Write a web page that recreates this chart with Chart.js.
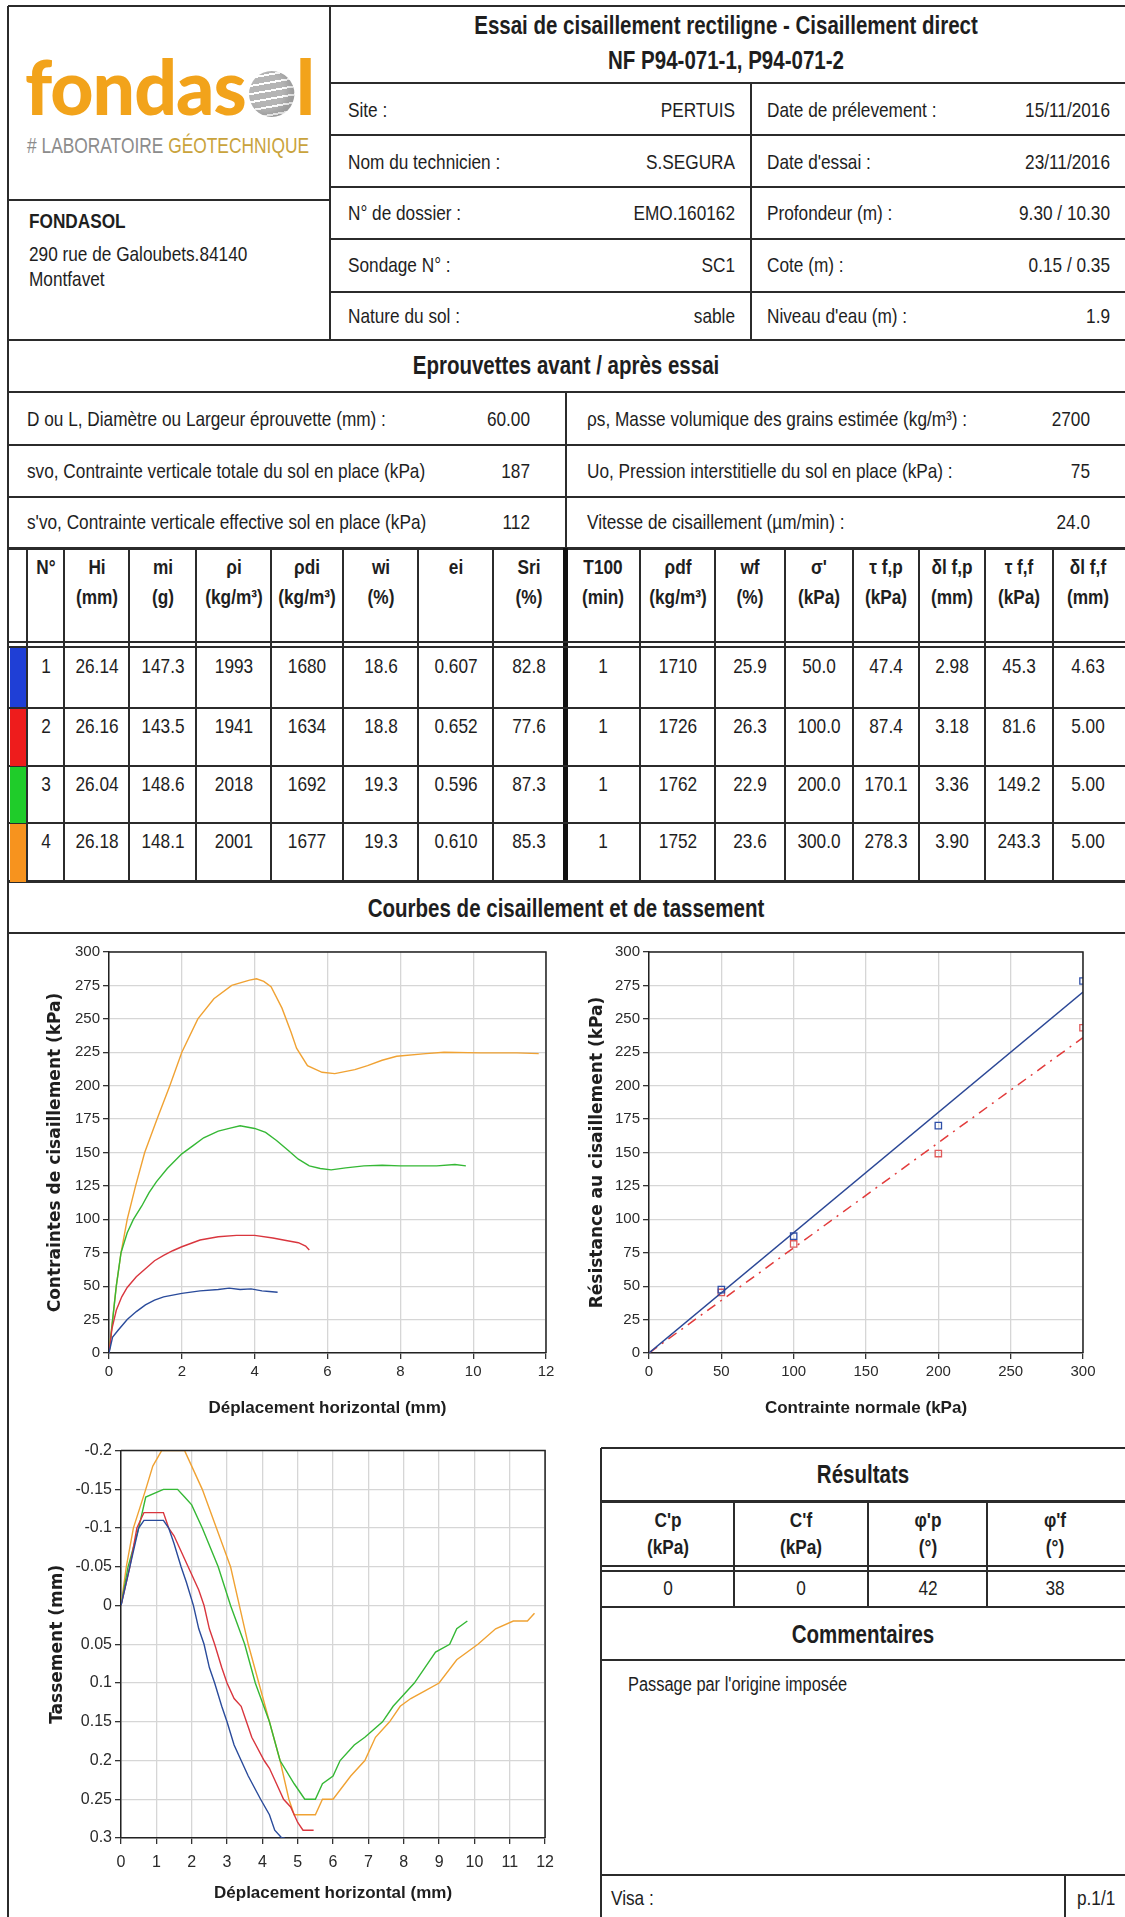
<!DOCTYPE html>
<html><head><meta charset="utf-8">
<script src="https://cdn.jsdelivr.net/npm/chart.js@4/dist/chart.umd.min.js"></script>
<style>
html,body{margin:0;padding:0;background:#fff;}
body{width:1125px;height:1917px;overflow:hidden;}
#page{position:absolute;left:0;top:0;width:1125px;height:1917px;overflow:hidden;font-family:"Liberation Sans",Arial,sans-serif;color:#1e1e1e;}
.t{position:absolute;white-space:nowrap;font-size:21px;line-height:1.15;}
.b{font-weight:bold;}
canvas{position:absolute;}
</style></head>
<body><div id="page"></div>
<script>
// ---------------- DATA ----------------
const headerLeftLabels = ["Site :", "Nom du technicien :", "N° de dossier :", "Sondage N° :", "Nature du sol :"];
const headerLeftValues = ["PERTUIS", "S.SEGURA", "EMO.160162", "SC1", "sable"];
const headerRightLabels = ["Date de prélevement :", "Date d'essai :", "Profondeur (m) :", "Cote (m) :", "Niveau d'eau (m) :"];
const headerRightValues = ["15/11/2016", "23/11/2016", "9.30 / 10.30", "0.15 / 0.35", "1.9"];

const paramLeftLabels = ["D ou L, Diamètre ou Largeur éprouvette (mm) :", "svo, Contrainte verticale totale du sol en place (kPa)", "s'vo, Contrainte verticale effective sol en place (kPa)"];
const paramLeftValues = ["60.00", "187", "112"];
const paramRightLabels = ["ρs, Masse volumique des grains estimée (kg/m³) :", "Uo, Pression interstitielle du sol en place (kPa) :", "Vitesse de cisaillement (µm/min) :"];
const paramRightValues = ["2700", "75", "24.0"];

const tableHeaders = ["N°", "Hi<br>(mm)", "mi<br>(g)", "ρi<br>(kg/m³)", "ρdi<br>(kg/m³)", "wi<br>(%)", "ei", "Sri<br>(%)",
  "T100<br>(min)", "ρdf<br>(kg/m³)", "wf<br>(%)", "σ'<br>(kPa)", "τ f,p<br>(kPa)", "δl f,p<br>(mm)", "τ f,f<br>(kPa)", "δl f,f<br>(mm)"];
const specimenNo = ["1", "2", "3", "4"];
const colHi   = ["26.14", "26.16", "26.04", "26.18"];
const colMi   = ["147.3", "143.5", "148.6", "148.1"];
const colRhoI = ["1993", "1941", "2018", "2001"];
const colRhoDi= ["1680", "1634", "1692", "1677"];
const colWi   = ["18.6", "18.8", "19.3", "19.3"];
const colEi   = ["0.607", "0.652", "0.596", "0.610"];
const colSri  = ["82.8", "77.6", "87.3", "85.3"];
const colT100 = ["1", "1", "1", "1"];
const colRhoDf= ["1710", "1726", "1762", "1752"];
const colWf   = ["25.9", "26.3", "22.9", "23.6"];
const colSigma= ["50.0", "100.0", "200.0", "300.0"];
const colTauFP= ["47.4", "87.4", "170.1", "278.3"];
const colDlFP = ["2.98", "3.18", "3.36", "3.90"];
const colTauFF= ["45.3", "81.6", "149.2", "243.3"];
const colDlFF = ["4.63", "5.00", "5.00", "5.00"];
const specimenColors = ["#1f3fd6", "#ee1c1c", "#1fcc2a", "#f7931e"];

const resultHeaders = ["C'p<br>(kPa)", "C'f<br>(kPa)", "φ'p<br>(°)", "φ'f<br>(°)"];
const resultValues = ["0", "0", "42", "38"];
const commentText = "Passage par l'origine imposée";

// Shear stress vs horizontal displacement
const dispBlue = [0, 0.1, 0.25, 0.5, 0.75, 1.0, 1.25, 1.5, 2.0, 2.5, 3.0, 3.3, 3.6, 3.9, 4.2, 4.4, 4.63];
const tauBlue  = [0, 12, 17, 25, 31, 36, 39.5, 42, 44.6, 46.5, 47.5, 48.5, 47.5, 48, 46.5, 46, 45.5];
const dispRed  = [0, 0.08, 0.2, 0.35, 0.5, 0.75, 1.0, 1.25, 1.5, 1.75, 2.0, 2.5, 3.0, 3.5, 4.0, 4.5, 4.9, 5.2, 5.4, 5.5];
const tauRed   = [0, 18, 32, 42, 49, 57, 63, 69, 73, 76.5, 79.5, 84.5, 87, 88, 88, 86, 84, 82.5, 80, 77];
const dispGreen= [0, 0.1, 0.2, 0.33, 0.5, 0.67, 0.9, 1.1, 1.3, 1.6, 2.0, 2.3, 2.6, 3.0, 3.3, 3.6, 4.0, 4.3, 4.6, 4.9, 5.2, 5.5, 5.8, 6.1, 6.5, 7.0, 7.5, 8.0, 8.5, 9.0, 9.5, 9.8];
const tauGreen = [0, 25, 50, 75, 90, 100, 110, 120, 128, 138, 149, 155, 161, 166, 168, 170, 168, 165, 159, 152, 145, 140, 138, 137, 138.5, 140, 140.5, 140, 140, 140, 141, 140];
const dispOrange=[0, 0.1, 0.2, 0.33, 0.5, 0.73, 0.98, 1.32, 1.67, 2.0, 2.44, 2.88, 3.37, 3.86, 4.05, 4.25, 4.45, 4.75, 5.0, 5.15, 5.45, 5.85, 6.2, 6.75, 7.1, 7.5, 7.9, 8.7, 9.2, 10.2, 11.2, 11.8];
const tauOrange= [0, 25, 50, 75, 100, 125, 150, 175, 200, 225, 250, 265, 275, 279, 280, 278, 274, 258, 240, 228, 215, 210, 209, 212, 215, 219, 222, 224, 225, 224.5, 224.5, 224];

// Shear strength vs normal stress
const sigmaN = [50, 100, 200, 300];
const tauPeak = [47.4, 87.4, 170.1, 278.3];
const tauFinal = [45.3, 81.6, 149.2, 243.3];
const fitSigma = [0, 300];
const fitPeak = [0, 270];
const fitFinal = [0, 236];

// Settlement vs horizontal displacement
const sdBlue = [0, 0.25, 0.5, 0.65, 1.2, 1.35, 1.5, 1.7, 1.85, 2.05, 2.2, 2.35, 2.5, 2.65, 2.85, 3.0, 3.2, 3.4, 3.6, 3.95, 4.2, 4.35, 4.55, 4.63];
const stBlue = [0, -0.05, -0.1, -0.11, -0.11, -0.1, -0.08, -0.05, -0.03, 0, 0.03, 0.05, 0.08, 0.1, 0.13, 0.15, 0.18, 0.2, 0.22, 0.25, 0.27, 0.29, 0.3, 0.3];
const sdRed  = [0, 0.25, 0.45, 0.65, 1.2, 1.35, 1.5, 1.7, 1.9, 2.2, 2.35, 2.5, 2.65, 2.85, 3.0, 3.2, 3.4, 3.55, 3.7, 4.05, 4.2, 4.4, 4.6, 4.8, 5.0, 5.15, 5.45];
const stRed  = [0, -0.05, -0.1, -0.12, -0.12, -0.1, -0.09, -0.07, -0.05, -0.02, 0, 0.03, 0.05, 0.08, 0.1, 0.12, 0.13, 0.15, 0.17, 0.2, 0.21, 0.23, 0.25, 0.26, 0.28, 0.29, 0.29];
const sdGreen= [0, 0.2, 0.5, 0.7, 1.2, 1.6, 1.8, 2.0, 2.3, 2.75, 3.1, 3.5, 3.8, 4.2, 4.5, 4.9, 5.2, 5.5, 5.7, 6.0, 6.2, 6.6, 6.9, 7.4, 7.7, 7.9, 8.3, 8.6, 8.9, 9.3, 9.5, 9.8];
const stGreen= [0, -0.05, -0.1, -0.14, -0.15, -0.15, -0.14, -0.13, -0.1, -0.05, 0, 0.05, 0.1, 0.15, 0.2, 0.23, 0.25, 0.25, 0.23, 0.22, 0.2, 0.18, 0.17, 0.15, 0.13, 0.12, 0.1, 0.08, 0.06, 0.05, 0.03, 0.02];
const sdOrange=[0, 0.15, 0.35, 0.7, 0.9, 1.15, 1.8, 2.0, 2.3, 2.7, 3.1, 3.35, 3.6, 3.9, 4.2, 4.5, 4.75, 4.9, 5.5, 5.7, 6.0, 6.5, 6.9, 7.2, 7.6, 7.9, 8.2, 8.6, 9.0, 9.5, 10.1, 10.6, 11.1, 11.5, 11.7];
const stOrange=[0, -0.05, -0.1, -0.15, -0.18, -0.2, -0.2, -0.18, -0.15, -0.1, -0.05, 0, 0.05, 0.1, 0.15, 0.2, 0.25, 0.27, 0.27, 0.25, 0.25, 0.22, 0.2, 0.17, 0.15, 0.13, 0.12, 0.11, 0.1, 0.07, 0.05, 0.03, 0.02, 0.02, 0.01];

// Tick labels
const ticksStress = [0, 25, 50, 75, 100, 125, 150, 175, 200, 225, 250, 275, 300];
const ticksDisp2 = [0, 2, 4, 6, 8, 10, 12];
const ticksSigma = [0, 50, 100, 150, 200, 250, 300];
const ticksSettle = [-0.2, -0.15, -0.1, -0.05, 0, 0.05, 0.1, 0.15, 0.2, 0.25, 0.3];
const ticksDisp1 = [0, 1, 2, 3, 4, 5, 6, 7, 8, 9, 10, 11, 12];

const curveColors = ["#2a4b9b", "#d9363e", "#35b835", "#f0a233"];

// ---------------- LAYOUT HELPERS ----------------
const P = document.getElementById('page');
const LINE = '#2b2b2b';
const NARROW_SCALE = 0.82;
function H(x1, x2, y, w = 2, c = LINE) {
  const d = document.createElement('div');
  d.style.cssText = `position:absolute;left:${x1}px;top:${y - w / 2}px;width:${x2 - x1}px;height:${w}px;background:${c}`;
  P.appendChild(d);
}
function V(x, y1, y2, w = 2, c = LINE) {
  const d = document.createElement('div');
  d.style.cssText = `position:absolute;left:${x - w / 2}px;top:${y1}px;width:${w}px;height:${y2 - y1}px;background:${c}`;
  P.appendChild(d);
}
function R(x, y, w, h, c) {
  const d = document.createElement('div');
  d.style.cssText = `position:absolute;left:${x}px;top:${y}px;width:${w}px;height:${h}px;background:${c}`;
  P.appendChild(d);
}
function T(html, x, y, o = {}) {
  const d = document.createElement('div');
  d.className = 't' + (o.bold ? ' b' : '');
  d.innerHTML = html;
  const al = o.align || 'left';
  const ax = al === 'center' ? '-50%' : (al === 'right' ? '-100%' : '0');
  const ox = al === 'center' ? '50%' : (al === 'right' ? '100%' : '0');
  const sx = o.sx != null ? o.sx : NARROW_SCALE;
  d.style.left = x + 'px';
  d.style.top = y + 'px';
  d.style.transformOrigin = `${ox} 50%`;
  d.style.transform = `translate(${ax},-50%) scaleX(${sx})`;
  if (o.size) d.style.fontSize = o.size + 'px';
  if (o.lh) d.style.lineHeight = o.lh + 'px';
  if (al === 'center') d.style.textAlign = 'center';
  if (o.color) d.style.color = o.color;
  if (o.family) d.style.fontFamily = o.family;
  P.appendChild(d);
  return d;
}

// ---------------- HEADER ----------------
const RIGHT = 1130;
V(8, 6, 1917);
H(8, RIGHT, 6);
V(330, 6, 340);
H(330, RIGHT, 83);
[135, 187, 239, 292].forEach(y => H(330, RIGHT, y));
H(8, RIGHT, 340);
H(8, 330, 200);
V(751, 83, 340);

T("Essai de cisaillement rectiligne - Cisaillement direct", 726, 25, {align: 'center', bold: true, size: 25});
T("NF P94-071-1, P94-071-2", 726, 60, {align: 'center', bold: true, size: 25});
const rowC = [110, 162, 213, 265, 316];
rowC.forEach((y, i) => {
  T(headerLeftLabels[i], 348, y);
  T(headerLeftValues[i], 735, y, {align: 'right'});
  T(headerRightLabels[i], 767, y);
  T(headerRightValues[i], 1110, y, {align: 'right'});
});

// Logo
const logo = document.createElement('div');
logo.style.cssText = 'position:absolute;left:25px;top:46px;white-space:nowrap;font-family:Lato,"DejaVu Sans",sans-serif;font-weight:900;font-size:76px;line-height:80px;color:#f2a31b;transform-origin:0 0;letter-spacing:-1px';
logo.innerHTML = 'fondas<span style="display:inline-block;width:46px;height:46px;border-radius:50%;margin:0 2px 0 3px;vertical-align:-2px;background:repeating-linear-gradient(170deg,#b5b5b5 0 6px,#fff 6px 8px);box-shadow:inset -6px -4px 8px rgba(0,0,0,0.15)"></span>l';
P.appendChild(logo);
const lw = logo.getBoundingClientRect().width;
logo.style.transform = `scaleX(${289 / lw})`;
const lab = T('# LABORATOIRE <span style="color:#c9a33c">GÉOTECHNIQUE</span>', 27, 146, {size: 22, color: '#8c8c8c', sx: 1});
const lbw = lab.getBoundingClientRect().width;
lab.style.transform = `translate(0,-50%) scaleX(${282 / lbw})`;

T("FONDASOL", 29, 221, {bold: true});
T("290 rue de Galoubets.84140", 29, 254);
T("Montfavet", 29, 279);

// ---------------- EPROUVETTES ----------------
T("Eprouvettes avant / après essai", 566, 365, {align: 'center', bold: true, size: 25});
H(8, RIGHT, 392);
[445, 497].forEach(y => H(8, RIGHT, y));
V(566, 392, 548);
const prmY = [419, 471, 522];
prmY.forEach((y, i) => {
  T(paramLeftLabels[i], 27, y);
  T(paramLeftValues[i], 530, y, {align: 'right'});
  T(paramRightLabels[i], 587, y);
  T(paramRightValues[i], 1090, y, {align: 'right'});
});
H(8, RIGHT, 548, 3);

// Main table
const colX = [27, 64, 129, 196, 271, 343, 418, 493, 565, 640, 715, 785, 853, 919, 985, 1053, 1122];
const rowTop = [648, 708, 766, 823, 882];
for (let i = 0; i < colX.length - 1; i++) {
  if (i === 8) continue;
  V(colX[i], 548, 882);
}
V(565, 548, 882, 5, '#111');
H(8, RIGHT, 642);
H(8, RIGHT, 647);
[708, 766, 823].forEach(y => H(8, RIGHT, y));
H(8, RIGHT, 881, 3);
tableHeaders.forEach((h, i) => {
  const cx = (colX[i] + colX[i + 1]) / 2;
  T(h, cx, h.includes('<br>') ? 582 : 567, {align: 'center', bold: true, lh: 30});
});
const tableCols = [specimenNo, colHi, colMi, colRhoI, colRhoDi, colWi, colEi, colSri, colT100, colRhoDf, colWf, colSigma, colTauFP, colDlFP, colTauFF, colDlFF];
for (let r = 0; r < 4; r++) {
  R(10, rowTop[r] + (r ? 1 : 0), 16, rowTop[r + 1] - rowTop[r] - 1, specimenColors[r]);
  tableCols.forEach((col, i) => {
    const cx = (colX[i] + colX[i + 1]) / 2;
    T(col[r], cx, rowTop[r] + 18, {align: 'center'});
  });
}

// ---------------- COURBES ----------------
T("Courbes de cisaillement et de tassement", 566, 908, {align: 'center', bold: true, size: 25});
H(8, RIGHT, 933);

// Results box
V(601, 1448, 1917);
H(601, RIGHT, 1448);
T("Résultats", 863, 1474, {align: 'center', bold: true, size: 25});
H(601, RIGHT, 1501, 3);
const resX = [601, 734, 868, 987, 1122];
[734, 868, 987].forEach(x => V(x, 1501, 1607));
H(601, RIGHT, 1566);
H(601, RIGHT, 1571);
resultHeaders.forEach((h, i) => T(h, (resX[i] + resX[i + 1]) / 2, 1533, {align: 'center', bold: true, lh: 27}));
resultValues.forEach((v, i) => T(v, (resX[i] + resX[i + 1]) / 2, 1588, {align: 'center'}));
H(601, RIGHT, 1607);
T("Commentaires", 863, 1634, {align: 'center', bold: true, size: 25});
H(601, RIGHT, 1660);
T(commentText, 628, 1684, {size: 20});
H(601, RIGHT, 1875);
V(1065, 1875, 1917);
T("Visa :", 611, 1898);
T("p.1/1", 1077, 1898);

// ---------------- CHARTS ----------------
const SANS = "'Liberation Sans',Arial,sans-serif";
Chart.defaults.font.family = SANS;
Chart.defaults.color = '#2a2a2a';

const boxPlugin = {
  id: 'box',
  afterDraw(c) {
    const a = c.chartArea, ctx = c.ctx;
    ctx.save();
    ctx.strokeStyle = '#222';
    ctx.lineWidth = 1.5;
    ctx.beginPath();
    ctx.moveTo(a.left, a.top); ctx.lineTo(a.right, a.top); ctx.lineTo(a.right, a.bottom);
    ctx.stroke();
    ctx.restore();
  }
};

function pts(xs, ys) { return xs.map((x, i) => ({x: x, y: ys[i]})); }
function fmt(v) { return String(Number(v.toFixed(2))); }

function mkCanvas(left, top, w, h) {
  const c = document.createElement('canvas');
  c.width = w; c.height = h;
  c.style.left = left + 'px'; c.style.top = top + 'px';
  c.style.width = w + 'px'; c.style.height = h + 'px';
  P.appendChild(c);
  return c;
}

function axis(o) {
  const s = {
    type: 'linear',
    min: o.min, max: o.max, reverse: !!o.reverse,
    afterBuildTicks: (sc) => { sc.ticks = o.ticks.map(v => ({value: v})); },
    grid: {color: '#d6d6d6', lineWidth: 1.3, tickColor: '#333', tickLength: 6, tickWidth: 1.3},
    border: {color: '#222', width: 1.5},
    ticks: {font: {size: o.tsize || 15}, color: '#2a2a2a', padding: o.tpad || 3, maxRotation: 0, autoSkip: false, callback: (v) => fmt(v)},
    title: {display: true, text: o.title, color: '#1e1e1e', font: o.titleFont, padding: {top: 4, bottom: 4}},
  };
  if (o.size != null) {
    s.afterFit = o.horizontal ? (sc) => { sc.height = o.size; } : (sc) => { sc.width = o.size; };
  }
  return s;
}

const TITLE_Y = {family: "'DejaVu Sans',Verdana,sans-serif", weight: 'bold', size: 17};
const TITLE_X = {family: SANS, weight: 'bold', size: 17};

function lineDs(data, color, extra = {}) {
  return Object.assign({data: data, borderColor: color, backgroundColor: color, borderWidth: 1.4, pointRadius: 0, tension: 0, fill: false}, extra);
}

const baseOpts = (pad, xAx, yAx) => ({
  responsive: false, animation: false, maintainAspectRatio: false,
  layout: {padding: pad},
  plugins: {legend: {display: false}, tooltip: {enabled: false}},
  scales: {x: xAx, y: yAx}
});

// Chart 1 : stress vs displacement
new Chart(mkCanvas(20, 940, 541, 483), {
  type: 'line',
  data: {datasets: [
    lineDs(pts(dispBlue, tauBlue), curveColors[0]),
    lineDs(pts(dispRed, tauRed), curveColors[1]),
    lineDs(pts(dispGreen, tauGreen), curveColors[2]),
    lineDs(pts(dispOrange, tauOrange), curveColors[3]),
  ]},
  options: baseOpts({left: 21, top: 12, right: 15, bottom: 0},
    axis({min: 0, max: 12, ticks: ticksDisp2, title: "Déplacement horizontal (mm)", titleFont: TITLE_X, horizontal: true, size: 70, tpad: 4}),
    axis({min: 0, max: 300, ticks: ticksStress, title: "Contraintes de cisaillement (kPa)", titleFont: TITLE_Y, size: 68})),
  plugins: [boxPlugin]
});

// Chart 2 : shear strength vs normal stress
new Chart(mkCanvas(565, 940, 538, 483), {
  type: 'line',
  data: {datasets: [
    lineDs(pts(fitSigma, fitPeak), '#2b4796', {borderWidth: 1.4}),
    lineDs(pts(fitSigma, fitFinal), '#e23b3b', {borderWidth: 1.5, borderDash: [10, 6, 2, 6]}),
    lineDs(pts(sigmaN, tauPeak), '#2f4fa8', {showLine: false, pointStyle: 'rect', pointRadius: 4.5, borderWidth: 1.3, backgroundColor: 'rgba(0,0,0,0)'}),
    lineDs(pts(sigmaN, tauFinal), '#e05a5a', {showLine: false, pointStyle: 'rect', pointRadius: 4.5, borderWidth: 1.3, backgroundColor: 'rgba(0,0,0,0)'}),
  ]},
  options: baseOpts({left: 18, top: 12, right: 20, bottom: 0},
    axis({min: 0, max: 300, ticks: ticksSigma, title: "Contrainte normale (kPa)", titleFont: TITLE_X, horizontal: true, size: 70, tpad: 4}),
    axis({min: 0, max: 300, ticks: ticksStress, title: "Résistance au cisaillement (kPa)", titleFont: TITLE_Y, size: 66})),
  plugins: [boxPlugin]
});

// Chart 3 : settlement vs displacement
new Chart(mkCanvas(20, 1438, 543, 470), {
  type: 'line',
  data: {datasets: [
    lineDs(pts(sdBlue, stBlue), curveColors[0]),
    lineDs(pts(sdRed, stRed), curveColors[1]),
    lineDs(pts(sdGreen, stGreen), curveColors[2]),
    lineDs(pts(sdOrange, stOrange), curveColors[3]),
  ]},
  options: baseOpts({left: 23, top: 12, right: 15, bottom: 0},
    axis({min: 0, max: 12, ticks: ticksDisp1, title: "Déplacement horizontal (mm)", titleFont: TITLE_X, horizontal: true, size: 70, tpad: 9, tsize: 16}),
    axis({min: -0.2, max: 0.3, reverse: true, ticks: ticksSettle, title: "Tassement (mm)", titleFont: TITLE_Y, size: 78, tsize: 16})),
  plugins: [boxPlugin]
});
</script>
</body></html>
